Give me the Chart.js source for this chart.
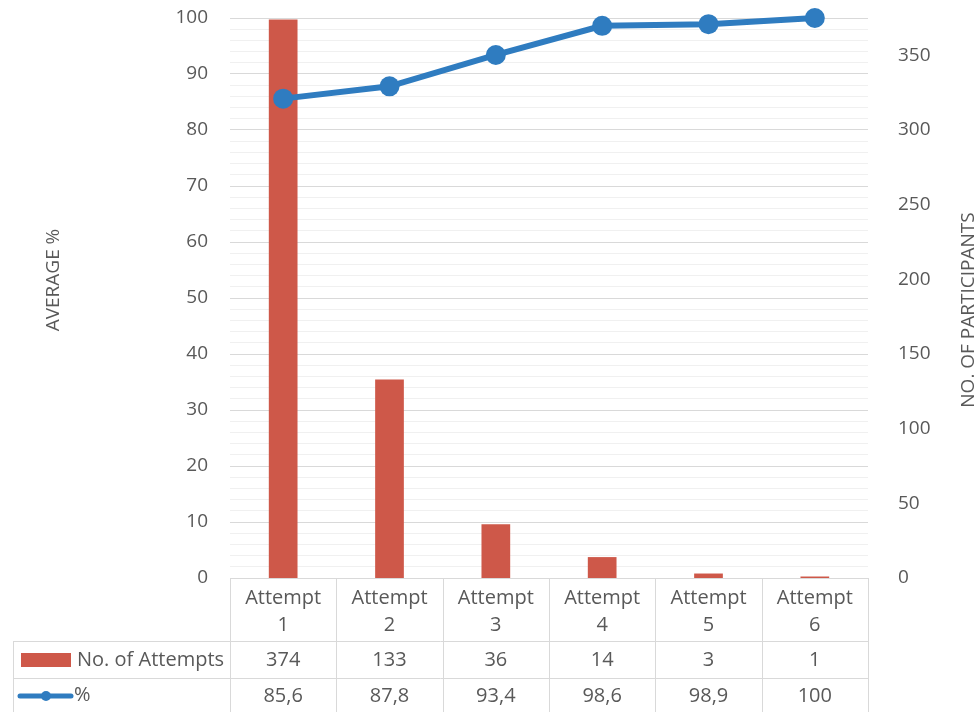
<!DOCTYPE html>
<html>
<head>
<meta charset="utf-8">
<script src="https://cdn.jsdelivr.net/npm/chart.js@4/dist/chart.umd.min.js"></script>
<style>
  html, body { margin: 0; padding: 0; background: #fff; }
  #wrap { width: 974px; height: 712px; }
</style>
</head>
<body>
<div id="wrap"><canvas id="chart"></canvas></div>
<script>
const categories = ["Attempt 1", "Attempt 2", "Attempt 3", "Attempt 4", "Attempt 5", "Attempt 6"];
const attempts = [374, 133, 36, 14, 3, 1];
const percent = [85.6, 87.8, 93.4, 98.6, 98.9, 100];
const percentLabels = ["85,6", "87,8", "93,4", "98,6", "98,9", "100"];

const textColor = "#595959";
const barColor = "#CE5849";
const lineColor = "#2F7CC0";
const fontFamily = "'Open Sans', Lato, sans-serif";

// data table + axis titles drawn under the plot
const tablePlugin = {
  id: "dataTable",
  afterDraw(chart) {
    const ctx = chart.ctx;
    const area = chart.chartArea;
    const xs = chart.scales.x;
    const colW = (area.right - area.left) / categories.length;
    const top = area.bottom;
    const row1 = top + 63, row2 = row1 + 37, bottom = 712;
    const leftEdge = 13;

    ctx.save();
    ctx.strokeStyle = "#D9D9D9";
    ctx.lineWidth = 1;
    ctx.beginPath();
    ctx.moveTo(area.left, top + 0.5); ctx.lineTo(area.right, top + 0.5);
    ctx.moveTo(leftEdge, row1 + 0.5); ctx.lineTo(area.right, row1 + 0.5);
    ctx.moveTo(leftEdge, row2 + 0.5); ctx.lineTo(area.right, row2 + 0.5);
    ctx.moveTo(leftEdge + 0.5, row1); ctx.lineTo(leftEdge + 0.5, bottom);
    for (let i = 0; i <= categories.length; i++) {
      const x = Math.round(area.left + i * colW) + 0.5;
      ctx.moveTo(x, top); ctx.lineTo(x, bottom);
    }
    ctx.stroke();

    ctx.fillStyle = textColor;
    ctx.font = "20px " + fontFamily;
    ctx.textAlign = "center";
    ctx.textBaseline = "middle";
    categories.forEach((c, i) => {
      const cx = xs.getPixelForValue(i);
      const parts = c.split(" ");
      ctx.fillText(parts[0], cx, top + 20);
      ctx.fillText(parts[1], cx, top + 47);
      ctx.fillText(String(attempts[i]), cx, row1 + 19);
      ctx.fillText(percentLabels[i], cx, row2 + 18);
    });

    // legend keys
    ctx.fillStyle = barColor;
    ctx.fillRect(21, row1 + 12, 50, 14);
    ctx.fillStyle = textColor;
    ctx.textAlign = "left";
    ctx.fillText("No. of Attempts", 77, row1 + 19);

    ctx.strokeStyle = lineColor;
    ctx.lineWidth = 5;
    ctx.lineCap = "round";
    ctx.beginPath();
    ctx.moveTo(20, row2 + 18); ctx.lineTo(71, row2 + 18);
    ctx.stroke();
    ctx.fillStyle = lineColor;
    ctx.beginPath();
    ctx.arc(46, row2 + 18, 5, 0, Math.PI * 2);
    ctx.fill();
    ctx.fillStyle = textColor;
    ctx.fillText("%", 74, row2 + 17);

    // axis titles
    ctx.font = "19px " + fontFamily;
    ctx.textAlign = "center";
    ctx.save();
    ctx.translate(54, 280);
    ctx.rotate(-Math.PI / 2);
    ctx.fillText("AVERAGE %", 0, 0);
    ctx.restore();
    ctx.save();
    ctx.translate(969, 310);
    ctx.rotate(-Math.PI / 2);
    ctx.fillText("NO. OF PARTICIPANTS", 0, 0);
    ctx.restore();
    ctx.restore();
  }
};

const data = {
  labels: categories,
  datasets: [
    {
      type: "line",
      label: "%",
      data: percent,
      yAxisID: "y",
      borderColor: lineColor,
      backgroundColor: lineColor,
      borderWidth: 6,
      pointRadius: 10,
      pointBorderWidth: 0,
      pointBackgroundColor: lineColor,
      clip: false,
      order: 0,
    },
    {
      type: "bar",
      label: "No. of Attempts",
      data: attempts,
      yAxisID: "y1",
      backgroundColor: barColor,
      categoryPercentage: 1,
      barPercentage: 0.27,
      order: 1,
    },
  ],
};

const fitY = (w) => (s) => {
  s.width = w;
  s.paddingTop = 0;
  s.paddingBottom = 0;
};

const config = {
  data: data,
  options: {
    responsive: false,
    animation: false,
    layout: {
      padding: { top: 18, bottom: 134, left: 0, right: 0 },
    },
    plugins: {
      legend: { display: false },
      tooltip: { enabled: false },
    },
    scales: {
      x: {
        offset: true,
        ticks: { display: false },
        grid: { display: false },
        border: { display: false },
        afterFit: (s) => { s.height = 0; },
      },
      y: {
        position: "left",
        min: 0,
        max: 100,
        ticks: {
          stepSize: 2,
          autoSkip: false,
          padding: 22,
          color: textColor,
          font: { family: fontFamily, size: 19 },
          callback: (v) => (v % 10 === 0 ? v : ""),
        },
        grid: {
          drawTicks: false,
          color: (c) => (c.tick && c.tick.value % 10 === 0 ? "#D9D9D9" : "#F0F0F0"),
        },
        border: { display: false },
        afterFit: fitY(230),
      },
      y1: {
        position: "right",
        min: 0,
        max: 375,
        ticks: {
          stepSize: 50,
          padding: 22,
          color: textColor,
          font: { family: fontFamily, size: 19 },
        },
        afterBuildTicks: (s) => { s.ticks = s.ticks.filter((t) => t.value % 50 === 0); },
        grid: { display: false },
        border: { display: false },
        afterFit: fitY(106),
      },
    },
  },
  plugins: [tablePlugin],
};

const canvas = document.getElementById("chart");
canvas.width = 974;
canvas.height = 712;
const myChart = new Chart(canvas, config);
</script>
</body>
</html>
